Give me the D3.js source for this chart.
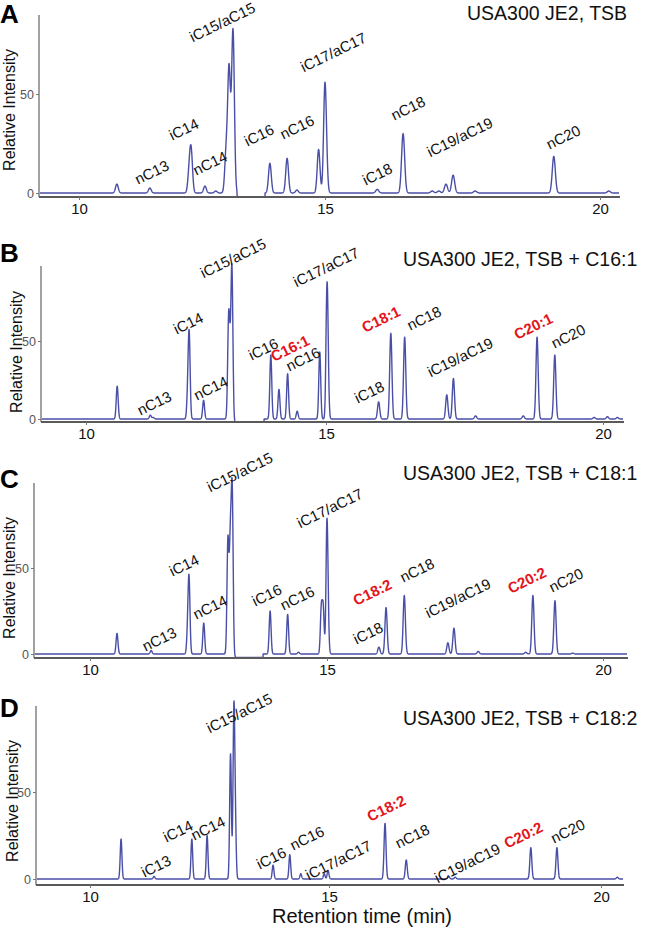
<!DOCTYPE html>
<html><head><meta charset="utf-8">
<script src="https://cdn.jsdelivr.net/npm/d3@7"></script>
<style>
body{margin:0;background:#fff}
svg{display:block}
text{font-family:Arial,"Liberation Sans",Helvetica,sans-serif}
</style>
</head><body>
<svg id="chart" width="650" height="929"></svg>
<script>
// ---------------- DATA ----------------
const panelLetters = ["A", "B", "C", "D"];
const panelTitles = [
  "USA300 JE2, TSB",
  "USA300 JE2, TSB + C16:1",
  "USA300 JE2, TSB + C18:1",
  "USA300 JE2, TSB + C18:2"
];
const xTickValues = [10, 15, 20];
const yTickValues = [0, 50];
const xAxisTitle = "Retention time (min)";
const yAxisTitle = "Relative Intensity";

// peaks: [retention time (min), relative intensity]
const peaksA = [
  [10.77, 4.5], [11.44, 2.5], [12.24, 10], [12.28, 20], [12.56, 3.5], [12.78, 1],
  [12.99, 20], [13.05, 62], [13.13, 82], [13.88, 15], [14.23, 17.5], [14.43, 1.5],
  [14.87, 22], [15.0, 56], [15.95, 1.8], [16.42, 30], [16.95, 1], [17.07, 1],
  [17.2, 4.5], [17.33, 9], [17.73, 1], [19.16, 18.5], [20.16, 1]
];
const peaksB = [
  [10.65, 21], [11.34, 2.5], [11.4, 1], [12.12, 15], [12.15, 52], [12.45, 12],
  [12.97, 58], [13.0, 30], [13.04, 95], [13.85, 41], [14.02, 19], [14.2, 29],
  [14.4, 5], [14.87, 43], [15.02, 88], [15.95, 11], [16.17, 55], [16.42, 52.5],
  [17.18, 15.5], [17.3, 26], [17.7, 2], [18.56, 2], [18.81, 52.5], [19.13, 41],
  [19.84, 1], [20.08, 1.5], [20.26, 1]
];
const peaksC = [
  [10.57, 12], [11.29, 2], [12.06, 12], [12.09, 42], [12.4, 18], [12.91, 66],
  [12.96, 62], [13.0, 92], [13.8, 25], [14.17, 23], [14.4, 1], [14.88, 26],
  [14.92, 26], [15.0, 79], [15.94, 4], [16.07, 27], [16.4, 34], [17.19, 6.5],
  [17.3, 15], [17.74, 1.5], [18.6, 1], [18.73, 34], [19.13, 31], [19.45, 0.5]
];
const peaksD = [
  [10.65, 23], [11.34, 1.5], [12.13, 23], [12.45, 25], [12.94, 72], [13.01, 94],
  [13.04, 30], [13.83, 8], [14.18, 14], [14.41, 3], [14.9, 3], [14.98, 5],
  [16.03, 32], [16.42, 11], [17.2, 1.5], [17.32, 1], [18.71, 18], [19.19, 18],
  [20.3, 1]
];
// baseline dip after iC15/aC15 [start, end] (min)
const dipA = [13.21, 13.78];
const dipB = [13.08, 13.71];
const dipC = [13.03, 13.65];
const dipD = null;

// peak labels: [text, retention time, intensity, highlighted]
const labelsA = [
  ["nC13", 11.48, 10.6, 0], ["iC14", 12.13, 32.3, 0], ["nC14", 12.66, 15.2, 0],
  ["iC15/aC15", 12.91, 86.4, 0], ["iC16", 13.66, 29.3, 0], ["nC16", 14.43, 33.3, 0],
  ["iC17/aC17", 15.15, 71.2, 0], ["iC18", 15.95, 9.6, 0], ["nC18", 16.51, 42.9, 0],
  ["iC19/aC19", 17.45, 28.3, 0], ["nC20", 19.33, 28.3, 0]
];
const labelsB = [
  ["nC13", 11.42, 10.3, 0], ["iC14", 12.13, 61.5, 0], ["nC14", 12.6, 19.9, 0],
  ["iC15/aC15", 13.06, 103.2, 0], ["iC16", 13.69, 44.9, 0], ["C16:1", 14.25, 45.5, 1],
  ["nC16", 14.52, 38.5, 0], ["iC17/aC17", 15.0, 97.4, 0], ["iC18", 15.78, 17.3, 0],
  ["C18:1", 15.99, 64.1, 1], ["nC18", 16.77, 64.7, 0], ["iC19/aC19", 17.42, 39.7, 0],
  ["C20:1", 18.74, 59.6, 1], ["nC20", 19.37, 53.2, 0]
];
const labelsC = [
  ["nC13", 11.46, 8.7, 0], ["iC14", 11.98, 51.7, 0], ["nC14", 12.53, 27.3, 0],
  ["iC15/aC15", 13.16, 105.8, 0], ["iC16", 13.73, 34.3, 0], ["nC16", 14.37, 32.6, 0],
  ["iC17/aC17", 15.05, 84.9, 0], ["iC18", 15.74, 12.2, 0], ["C18:2", 15.82, 36, 1],
  ["nC18", 16.63, 48.8, 0], ["iC19/aC19", 17.37, 32.6, 0], ["C20:2", 18.62, 43, 1],
  ["nC20", 19.33, 43, 0]
];
const labelsD = [
  ["iC13", 11.38, 7.5, 0], ["iC14", 11.84, 27.6, 0], ["nC14", 12.47, 29.3, 0],
  ["iC15/aC15", 13.12, 95.4, 0], ["iC16", 13.79, 12.1, 0], ["nC16", 14.54, 23.6, 0],
  ["iC17/aC17", 15.17, 10.9, 0], ["C18:2", 16.05, 40.8, 1], ["nC18", 16.53, 24.7, 0],
  ["iC19/aC19", 17.54, 9.2, 0], ["C20:2", 18.57, 25.3, 1], ["nC20", 19.39, 27.6, 0]
];

// ---------------- LAYOUT ----------------
const layout = [
  {peaks: peaksA, labels: labelsA, dip: dipA, sigma: 0.028, axX: 39, top: 15, y0: 193, y50: 94, axY: 197, right: 620, xr: [79, 325, 600], letterY: 23, titleX: 467, titleY: 20, ytX: 9, ytY: 110},
  {peaks: peaksB, labels: labelsB, dip: dipB, sigma: 0.02, axX: 41, top: 266, y0: 419, y50: 341, axY: 422, right: 624, xr: [86, 326, 603], letterY: 262, titleX: 403, titleY: 266, ytX: 16, ytY: 352},
  {peaks: peaksC, labels: labelsC, dip: dipC, sigma: 0.02, axX: 34, top: 483, y0: 654, y50: 568, axY: 658, right: 628, xr: [90, 327, 603], letterY: 488, titleX: 403, titleY: 480, ytX: 9, ytY: 578},
  {peaks: peaksD, labels: labelsD, dip: dipD, sigma: 0.018, axX: 36, top: 706, y0: 879, y50: 792, axY: 885, right: 624, xr: [90, 329, 601], letterY: 717, titleX: 403, titleY: 725, ytX: 12, ytY: 801}
];

const svg = d3.select("#chart");
const traceColor = "#4a4fa6";

function buildTrace(peaks, dip, sigma, t0, t1) {
  const pts = [];
  for (let t = t0; t <= t1; t += 0.0025) {
    let v = (dip && t >= dip[0] && t <= dip[1]) ? -2 : 0;
    for (const [pt, h] of peaks) {
      const d = (t - pt) / sigma;
      if (Math.abs(d) < 7) v += h * Math.exp(-0.5 * d * d);
    }
    pts.push([t, v]);
  }
  return pts;
}

layout.forEach((p, i) => {
  const g = svg.append("g");
  const x = d3.scaleLinear().domain(xTickValues).range(p.xr);
  const y = d3.scaleLinear().domain([0, 50]).range([p.y0, p.y50]);

  // y axis line
  g.append("line").attr("x1", p.axX).attr("x2", p.axX).attr("y1", p.top).attr("y2", p.axY)
    .attr("stroke", "#8a8a8a").attr("stroke-width", 1.6);
  const ya = g.append("g").attr("transform", `translate(${p.axX},0)`)
    .call(d3.axisLeft(y).tickValues(yTickValues).tickSize(3).tickPadding(2));
  ya.select(".domain").remove();
  ya.selectAll("line").attr("stroke", "#777");
  ya.selectAll("text").attr("font-size", 12.5).attr("fill", "#555")
    .attr("font-family", "'Liberation Sans Narrow',Arial,sans-serif");

  // trace
  const t0 = x.invert(p.axX + 1), t1 = x.invert(p.right - 1);
  const pts = buildTrace(p.peaks, p.dip, p.sigma, t0, t1);
  g.append("path").datum(pts)
    .attr("d", d3.line().x(d => x(d[0])).y(d => y(d[1])))
    .attr("fill", "none").attr("stroke", traceColor).attr("stroke-width", 1.4)
    .attr("stroke-linejoin", "round");

  // x axis
  g.append("line").attr("x1", p.axX).attr("x2", p.right).attr("y1", p.axY).attr("y2", p.axY)
    .attr("stroke", "#5a5a5a").attr("stroke-width", 2);
  const xa = g.append("g").attr("transform", `translate(0,${p.axY})`)
    .call(d3.axisBottom(x).tickValues(xTickValues).tickSize(3).tickPadding(3));
  xa.select(".domain").remove();
  xa.selectAll("line").attr("stroke", "#777");
  xa.selectAll("text").attr("font-size", 15).attr("fill", "#111");

  // peak labels
  g.selectAll("text.pl").data(p.labels).join("text")
    .attr("class", "pl")
    .attr("transform", d => `translate(${x(d[1])},${y(d[2])}) rotate(-26)`)
    .attr("text-anchor", "middle").attr("dominant-baseline", "central")
    .attr("font-size", 15)
    .attr("font-weight", d => d[3] ? "bold" : "normal")
    .attr("fill", d => d[3] ? "#e3141b" : "#111")
    .text(d => d[0]);

  // panel letter
  g.append("text").attr("x", 0).attr("y", p.letterY).attr("font-size", 26)
    .attr("font-weight", "bold").attr("fill", "#000").text(panelLetters[i]);
  // title
  g.append("text").attr("x", p.titleX).attr("y", p.titleY).attr("font-size", 19.5)
    .attr("fill", "#111").text(panelTitles[i]);
  // y axis title
  g.append("text").attr("transform", `translate(${p.ytX},${p.ytY}) rotate(-90)`)
    .attr("text-anchor", "middle").attr("dominant-baseline", "central")
    .attr("font-size", 16).attr("fill", "#111").text(yAxisTitle);
});

svg.append("text").attr("x", 362).attr("y", 923).attr("text-anchor", "middle")
  .attr("font-size", 20).attr("fill", "#111").text(xAxisTitle);
</script>
</body></html>
